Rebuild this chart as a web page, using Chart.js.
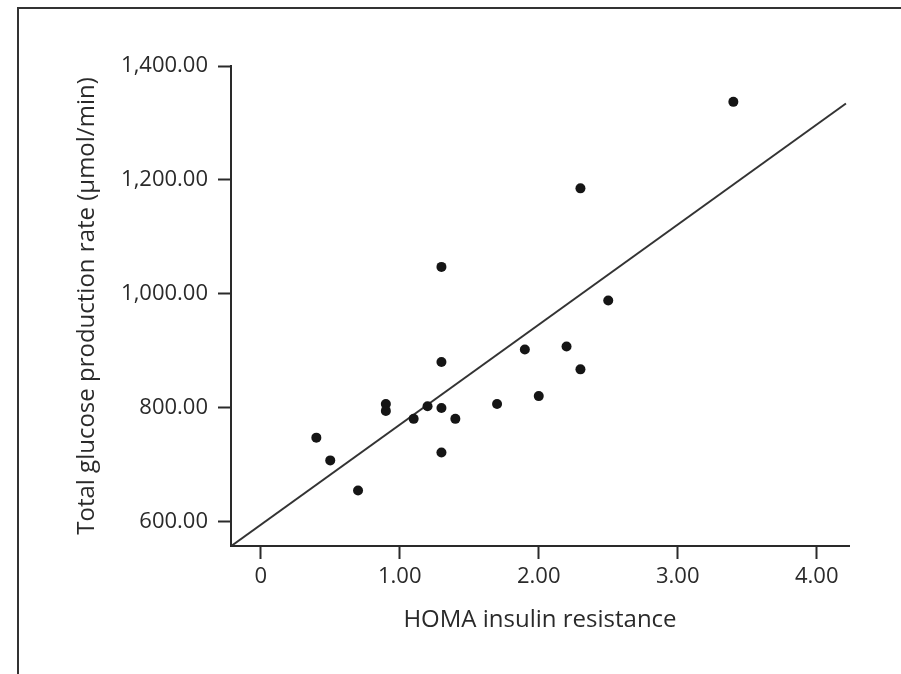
<!DOCTYPE html>
<html>
<head>
<meta charset="utf-8">
<script src="https://cdn.jsdelivr.net/npm/chart.js@4/dist/chart.umd.min.js"></script>
<style>
  html, body { margin: 0; padding: 0; background: #fff; overflow: hidden; }
  #frame { position: absolute; left: 17px; top: 7px; width: 900px; height: 700px;
           border-left: 2px solid #333; border-top: 2px solid #333; }
  #wrap { position: absolute; left: 0; top: 0; width: 901px; height: 674px; }
</style>
</head>
<body>
<div id="frame"></div>
<div id="wrap"><canvas id="scatter-chart"></canvas></div>
<script>
// values
var homa = [0.4, 0.5, 0.7, 0.9, 0.9, 1.1, 1.2, 1.3, 1.3, 1.3, 1.3, 1.4, 1.7, 1.9, 2.0, 2.2, 2.3, 2.3, 2.5, 3.4];
var glucose = [747, 707, 654, 806, 794, 780, 802, 1047, 880, 799, 721, 780, 806, 902, 820, 907, 1185, 867, 988, 1337];

// fit line end points (as drawn)
var fitX = [-0.21, 4.21];
var fitY = [557, 1334];

var xTicks = [0, 1, 2, 3, 4];
var xTickLabels = ['0', '1.00', '2.00', '3.00', '4.00'];
var yTicks = [600, 800, 1000, 1200, 1400];
var yTickLabels = ['600.00', '800.00', '1,000.00', '1,200.00', '1,400.00'];

function myChart() {
  var ink = '#2a2a2a';
  var font = "'Open Sans', sans-serif";

  var points = homa.map(function (h, i) { return { x: h, y: glucose[i] }; });
  var fit = fitX.map(function (h, i) { return { x: h, y: fitY[i] }; });

  var ctx = document.getElementById('scatter-chart');
  new Chart(ctx, {
    type: 'scatter',
    data: {
      datasets: [{
        data: points,
        backgroundColor: '#151515',
        borderWidth: 0,
        pointRadius: 5,
        pointHoverRadius: 5
      }, {
        type: 'line',
        data: fit,
        borderColor: '#333',
        borderWidth: 2,
        pointRadius: 0,
        fill: false
      }]
    },
    options: {
      responsive: true,
      maintainAspectRatio: false,
      animation: false,
      events: [],
      layout: { padding: { left: 69, top: 66, right: 52, bottom: 35 } },
      plugins: { legend: { display: false }, tooltip: { enabled: false } },
      scales: {
        x: {
          type: 'linear',
          min: -0.214,
          max: 4.232,
          afterBuildTicks: function (s) { s.ticks = xTicks.map(function (v) { return { value: v }; }); },
          afterFit: function (s) { s.height = 93; },
          grid: { drawOnChartArea: false, drawTicks: true, tickLength: 13, tickColor: ink, tickWidth: 2 },
          border: { display: true, color: ink, width: 2 },
          ticks: {
            color: ink, padding: 5,
            font: { family: font, size: 22, weight: '500' },
            callback: function (v) { return xTickLabels[xTicks.indexOf(v)]; }
          },
          title: { display: true, text: 'HOMA insulin resistance', color: ink, font: { family: font, size: 24, weight: '500' } }
        },
        y: {
          type: 'linear',
          min: 556.6,
          max: 1400,
          afterBuildTicks: function (s) { s.ticks = yTicks.map(function (v) { return { value: v }; }); },
          afterFit: function (s) { s.width = 162; },
          grid: { drawOnChartArea: false, drawTicks: true, tickLength: 13, tickColor: ink, tickWidth: 2 },
          border: { display: true, color: ink, width: 2 },
          ticks: {
            color: ink, padding: 10,
            font: { family: font, size: 22, weight: '500' },
            callback: function (v) { return yTickLabels[yTicks.indexOf(v)]; }
          },
          title: { display: true, text: 'Total glucose production rate (µmol/min)', color: ink, font: { family: font, size: 24, weight: '500' } }
        }
      }
    }
  });
}
myChart();
</script>
</body>
</html>
